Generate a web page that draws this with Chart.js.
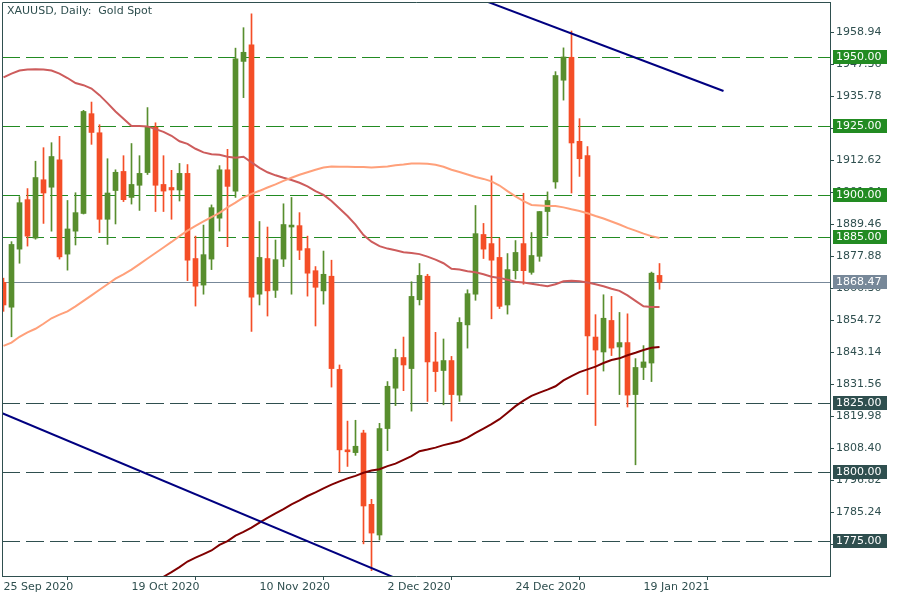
<!DOCTYPE html>
<html>
<head>
<meta charset="utf-8">
<script src="https://cdn.jsdelivr.net/npm/chart.js@4.4.0/dist/chart.umd.min.js"></script>
<style>
  html, body { margin: 0; padding: 0; background: #fff; }
  #wrap { width: 900px; height: 600px; }
</style>
</head>
<body>
<div id="wrap"><canvas id="chart" width="900" height="600"></canvas></div>
<script>
// XAUUSD daily candles, 25 Sep 2020 .. 21 Jan 2021 (bar index 0..82)
const title = 'XAUUSD, Daily:  Gold Spot';
const xTickIdx = [0, 16, 32, 48, 64, 80];
const xTickLabels = ['25 Sep 2020', '19 Oct 2020', '10 Nov 2020', '2 Dec 2020', '24 Dec 2020', '19 Jan 2021'];
const yTicks = [1958.94, 1947.36, 1935.78, 1924.20, 1912.62, 1901.04, 1889.46, 1877.88, 1866.30,
  1854.72, 1843.14, 1831.56, 1819.98, 1808.40, 1796.82, 1785.24, 1773.66];

const opens = [1868.5, 1859.5, 1880.5, 1898.4, 1884.5, 1905.6, 1902.9, 1912.8, 1878.7, 1887.0,
  1893.4, 1929.5, 1922.6, 1891.3, 1901.7, 1908.6, 1899.2, 1903.6, 1908.2, 1924.6,
  1903.9, 1902.8, 1901.9, 1907.9, 1877.1, 1867.5, 1876.9, 1891.7, 1909.2, 1901.5,
  1948.4, 1954.4, 1864.2, 1877.1, 1865.6, 1876.9, 1888.5, 1889.0, 1880.7, 1872.7,
  1865.4, 1870.7, 1837.0, 1807.9, 1806.9, 1814.0, 1788.2, 1777.1, 1815.6, 1830.2,
  1841.3, 1837.3, 1862.2, 1870.7, 1839.7, 1836.6, 1840.2, 1827.7, 1853.1, 1864.2,
  1885.8, 1882.5, 1877.5, 1860.3, 1872.7, 1882.5, 1872.1, 1877.9, 1894.1, 1904.8,
  1941.6, 1949.9, 1919.5, 1914.3, 1848.7, 1843.3, 1854.7, 1845.1, 1846.7, 1827.9,
  1837.7, 1839.3, 1871.0];
const highs = [1870.0, 1883.2, 1899.5, 1902.4, 1912.3, 1917.2, 1919.0, 1921.3, 1898.1, 1900.9,
  1930.7, 1933.7, 1925.5, 1913.2, 1909.2, 1914.3, 1918.7, 1914.3, 1931.7, 1926.2,
  1914.3, 1909.0, 1911.5, 1911.1, 1885.2, 1889.2, 1896.5, 1910.7, 1916.6, 1953.2,
  1960.6, 1965.6, 1890.5, 1888.5, 1883.8, 1896.9, 1899.2, 1893.7, 1885.2, 1874.2,
  1879.8, 1876.5, 1838.6, 1818.3, 1818.6, 1815.0, 1790.0, 1817.5, 1832.6, 1844.3,
  1848.7, 1868.7, 1875.3, 1871.4, 1850.4, 1848.0, 1841.7, 1855.7, 1865.8, 1896.3,
  1889.8, 1907.0, 1884.4, 1878.9, 1883.6, 1900.7, 1886.5, 1894.1, 1901.2, 1944.7,
  1953.3, 1959.4, 1927.7, 1917.6, 1856.8, 1864.0, 1863.4, 1857.6, 1857.1, 1840.9,
  1845.6, 1872.2, 1875.3];
const lows = [1858.0, 1848.8, 1875.4, 1881.6, 1884.1, 1889.8, 1887.0, 1876.9, 1872.9, 1882.0,
  1893.2, 1918.4, 1886.5, 1882.2, 1889.6, 1897.7, 1896.8, 1894.5, 1907.5, 1894.1,
  1894.1, 1891.3, 1897.9, 1869.1, 1859.9, 1864.2, 1873.1, 1887.0, 1881.4, 1899.2,
  1935.3, 1850.7, 1860.3, 1856.3, 1863.0, 1874.2, 1864.2, 1876.7, 1863.5, 1852.7,
  1860.6, 1830.6, 1799.9, 1801.9, 1805.9, 1773.9, 1764.2, 1775.3, 1807.6, 1823.9,
  1829.3, 1821.9, 1860.3, 1825.4, 1829.0, 1824.2, 1818.3, 1825.4, 1844.7, 1862.0,
  1877.1, 1855.3, 1859.0, 1857.0, 1869.7, 1867.8, 1871.4, 1876.1, 1885.4, 1902.5,
  1934.4, 1900.8, 1906.8, 1827.9, 1816.7, 1836.4, 1842.0, 1827.9, 1823.4, 1802.5,
  1833.3, 1832.6, 1866.0];
const closes = [1860.3, 1882.2, 1897.3, 1885.2, 1906.4, 1900.8, 1914.0, 1877.7, 1887.8, 1893.7,
  1930.3, 1922.7, 1891.3, 1900.8, 1908.3, 1898.4, 1903.9, 1907.9, 1924.6, 1903.6,
  1901.5, 1901.9, 1907.9, 1876.5, 1867.1, 1878.5, 1895.5, 1909.2, 1903.2, 1949.3,
  1951.7, 1863.1, 1877.5, 1865.4, 1876.7, 1889.4, 1889.2, 1880.1, 1871.8, 1866.7,
  1871.4, 1837.3, 1807.9, 1807.2, 1809.2, 1787.6, 1777.8, 1815.6, 1830.9, 1841.3,
  1838.6, 1863.4, 1871.0, 1839.7, 1836.2, 1840.2, 1827.9, 1854.0, 1864.4, 1886.1,
  1880.5, 1876.5, 1859.8, 1873.1, 1879.3, 1872.7, 1878.2, 1894.1, 1898.1, 1943.3,
  1950.0, 1918.9, 1913.2, 1849.1, 1844.0, 1855.5, 1844.7, 1846.7, 1827.7, 1837.7,
  1839.7, 1871.8, 1868.5];

// moving averages, one value per bar
const maSalmon = [1845.5, 1846.7, 1848.8, 1850.4, 1851.7, 1853.5, 1855.5, 1856.8, 1858.0, 1859.8,
  1861.8, 1863.8, 1865.8, 1867.8, 1869.8, 1871.4, 1873.1, 1875.1, 1877.1, 1879.1,
  1881.1, 1883.1, 1885.2, 1887.2, 1888.9, 1890.5, 1892.1, 1893.6, 1895.6, 1897.3,
  1899.2, 1900.5, 1901.6, 1902.8, 1903.9, 1905.2, 1906.3, 1907.4, 1908.3, 1909.2,
  1910.0, 1910.4, 1910.3, 1910.3, 1910.2, 1910.2, 1910.0, 1910.2, 1910.4, 1910.8,
  1911.1, 1911.5, 1911.5, 1911.4, 1911.0, 1910.3, 1909.2, 1908.4, 1907.5, 1906.6,
  1905.9, 1905.0, 1903.5, 1901.5, 1899.6, 1897.9, 1896.5, 1896.3, 1896.1, 1896.1,
  1895.6, 1894.9, 1894.3, 1893.5, 1892.5, 1891.6, 1890.5, 1889.4, 1888.2, 1887.2,
  1886.1, 1885.2, 1884.5];
const maIndian = [1942.6, 1944.0, 1945.1, 1945.5, 1945.6, 1945.5, 1945.1, 1944.0, 1942.4, 1940.6,
  1939.8, 1938.6, 1936.2, 1933.3, 1930.3, 1927.7, 1925.0, 1925.0, 1924.9, 1923.9,
  1922.9, 1921.5, 1919.5, 1918.6, 1916.8, 1915.5, 1914.8, 1914.6, 1913.9, 1913.6,
  1913.9, 1911.9, 1909.9, 1908.3, 1907.2, 1906.3, 1905.5, 1904.5, 1903.2, 1901.5,
  1900.1, 1897.9, 1895.2, 1892.5, 1889.4, 1885.6, 1883.2, 1881.6, 1880.7, 1880.1,
  1879.4, 1879.1, 1878.7, 1877.8, 1876.7, 1875.4, 1873.4, 1873.1, 1872.5, 1872.1,
  1871.4, 1870.5, 1870.1, 1869.4, 1868.7, 1868.4, 1868.0, 1867.5, 1867.1, 1867.8,
  1868.9, 1869.1, 1868.9, 1868.4, 1867.8, 1867.1, 1866.2, 1865.4, 1863.8, 1861.8,
  1859.8, 1859.6, 1859.6];
const maMaroon = [null, null, null, null, null, null, null, null, null, null,
  null, null, null, null, null, null, null, null, null, 1760.3,
  1762.0, 1763.7, 1765.5, 1767.5, 1768.9, 1770.2, 1771.5, 1773.5, 1774.9, 1776.9,
  1778.2, 1779.8, 1781.6, 1783.3, 1784.9, 1786.5, 1788.2, 1789.6, 1791.2, 1792.5,
  1794.0, 1795.3, 1796.5, 1797.6, 1798.5, 1799.6, 1800.4, 1800.9, 1802.0, 1802.9,
  1804.3, 1805.6, 1807.4, 1808.0, 1808.7, 1809.6, 1810.3, 1811.0, 1812.3, 1814.0,
  1815.6, 1817.2, 1819.0, 1821.3, 1823.7, 1825.7, 1827.4, 1828.6, 1829.7, 1830.9,
  1833.0, 1834.6, 1836.0, 1837.0, 1838.0, 1839.3, 1840.4, 1841.0, 1842.1, 1843.0,
  1844.0, 1844.8, 1845.1];

// trend lines as [bar, price] anchor pairs
const trendUpper = [[56, 1974.9], [90, 1937.7]];
const trendLower = [[-5, 1827.0], [50, 1760.3]];
const greenLevels = [1950, 1925, 1900, 1885];
const slateLevels = [1825, 1800, 1775];
const lastPrice = 1868.47;

const X_MIN = -0.1875, X_MAX = 103.3125;
const Y_MIN = 1762.27, Y_MAX = 1969.89;
const GREEN = '#588E2E', RED = '#F44E27';
const LEVEL_GREEN = '#228B22', SLATE = '#2F4F4F', PRICE = '#778899';

const idx = opens.map((_, i) => i);
const isUp = i => closes[i] >= opens[i];
const candleColor = ctx => isUp(ctx.dataIndex) ? GREEN : RED;

function lineSet(points, color, width, order) {
  return {
    type: 'line', data: points, borderColor: color, borderWidth: width,
    pointRadius: 0, tension: 0, clip: 0, order, spanGaps: false
  };
}

const datasets = [
  {
    type: 'bar', data: idx.map(i => ({x: i, y: [lows[i], highs[i]]})),
    backgroundColor: candleColor, barThickness: 1, grouped: false, order: 30
  },
  {
    type: 'bar', data: idx.map(i => ({x: i, y: [opens[i], closes[i]]})),
    backgroundColor: candleColor, barThickness: 5, minBarLength: 1, grouped: false, order: 29
  },
  lineSet(idx.map(i => ({x: i, y: maSalmon[i]})), '#FFA07A', 2, 10),
  lineSet(idx.map(i => ({x: i, y: maIndian[i]})), '#CD5C5C', 2, 10),
  lineSet(idx.map(i => ({x: i, y: maMaroon[i]})), '#800000', 2, 10),
  lineSet(trendUpper.map(p => ({x: p[0], y: p[1]})), '#000080', 2, 5),
  lineSet(trendLower.map(p => ({x: p[0], y: p[1]})), '#000080', 2, 5)
];

// horizontal levels + last price line, snapped to whole pixels, under the candles
const levels = {
  id: 'levels',
  beforeDatasetsDraw(chart) {
    const {ctx, chartArea: a, scales: {y}} = chart;
    ctx.save();
    ctx.lineWidth = 1;
    const hline = (v, color, dash) => {
      const py = Math.round(y.getPixelForValue(v)) + 0.5;
      ctx.strokeStyle = color;
      ctx.setLineDash(dash);
      ctx.beginPath();
      ctx.moveTo(a.left, py);
      ctx.lineTo(a.right, py);
      ctx.stroke();
    };
    hline(lastPrice, PRICE, []);
    greenLevels.forEach(v => hline(v, LEVEL_GREEN, [18, 6]));
    slateLevels.forEach(v => hline(v, SLATE, [18, 6]));
    ctx.restore();
  }
};

// frame, title and the price tags on the right axis
const decor = {
  id: 'decor',
  afterDraw(chart) {
    const {ctx, chartArea: a, scales: {y}} = chart;
    ctx.save();
    ctx.strokeStyle = SLATE;
    ctx.lineWidth = 1;
    ctx.beginPath();
    ctx.moveTo(a.left + 0.5, a.bottom);
    ctx.lineTo(a.left + 0.5, a.top + 0.5);
    ctx.lineTo(a.right, a.top + 0.5);
    ctx.stroke();

    ctx.fillStyle = SLATE;
    ctx.font = '11px "DejaVu Sans"';
    ctx.textBaseline = 'middle';
    ctx.fillText(title, a.left + 5, a.top + 9);

    const tag = (v, bg) => {
      const py = Math.round(y.getPixelForValue(v));
      ctx.fillStyle = bg;
      ctx.fillRect(a.right + 3, py - 7, 54, 14);
      ctx.fillStyle = '#fff';
      ctx.fillText(v.toFixed(2), a.right + 6, py + 0.5);
    };
    greenLevels.forEach(v => tag(v, LEVEL_GREEN));
    slateLevels.forEach(v => tag(v, SLATE));
    tag(lastPrice, PRICE);
    ctx.restore();
  }
};

new Chart(document.getElementById('chart').getContext('2d'), {
  type: 'bar',
  data: { datasets },
  plugins: [levels, decor],
  options: {
    responsive: false,
    animation: false,
    layout: { padding: { left: 2, top: 2, right: 0, bottom: 0 } },
    plugins: { legend: { display: false }, tooltip: { enabled: false } },
    scales: {
      x: {
        type: 'linear', min: X_MIN, max: X_MAX, offset: false,
        afterBuildTicks: s => { s.ticks = xTickIdx.map(v => ({value: v})); },
        afterFit: s => { s.height = 24; s.paddingLeft = 0; s.paddingRight = 0; },
        ticks: {
          autoSkip: false, maxRotation: 0, align: 'start', padding: 1,
          color: SLATE, font: { family: '"DejaVu Sans"', size: 11 },
          callback: (v, i) => xTickLabels[i]
        },
        grid: { drawOnChartArea: false, drawTicks: true, tickLength: 4, color: SLATE },
        border: { display: true, color: SLATE }
      },
      y: {
        type: 'linear', position: 'right', min: Y_MIN, max: Y_MAX,
        afterBuildTicks: s => { s.ticks = yTicks.map(v => ({value: v})); },
        afterFit: s => { s.width = 70; s.paddingTop = 0; s.paddingBottom = 0; },
        ticks: {
          padding: 2, color: SLATE, font: { family: '"DejaVu Sans"', size: 11 },
          callback: v => v.toFixed(2)
        },
        grid: { drawOnChartArea: false, drawTicks: true, tickLength: 4, color: SLATE },
        border: { display: true, color: SLATE }
      }
    }
  }
});
</script>
</body>
</html>
